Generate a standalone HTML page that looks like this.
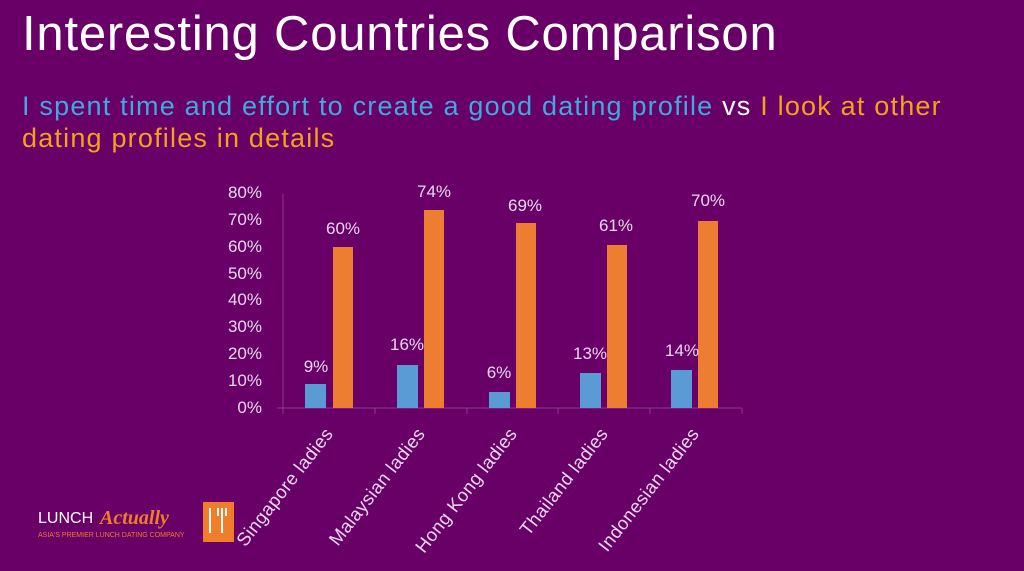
<!DOCTYPE html>
<html><head><style>
body{margin:0;width:1024px;height:571px;background:#690068;overflow:hidden;font-family:"Liberation Sans",sans-serif;position:relative}
.t{position:absolute;left:22px;top:6px;color:#fff;font-size:49px;letter-spacing:0.8px}
.s{position:absolute;left:22px;top:90px;font-size:27px;line-height:32px;color:#f4a11c;width:950px;letter-spacing:1.2px}
.b{color:#3fa9e0}.w{color:#fff}
</style></head><body>
<div class="t">Interesting Countries Comparison</div>
<div class="s"><span class="b">I spent time and effort to create a good dating profile</span> <span class="w">vs</span> I look at other dating profiles in details</div>
<svg width="1024" height="571" style="position:absolute;left:0;top:0" font-family="Liberation Sans, sans-serif">
<g fill="#e8d8ec" font-size="17" text-anchor="end">
<text x="262" y="198">80%</text><text x="262" y="225">70%</text><text x="262" y="252">60%</text><text x="262" y="279">50%</text><text x="262" y="305">40%</text><text x="262" y="332">30%</text><text x="262" y="359">20%</text><text x="262" y="386">10%</text><text x="262" y="413">0%</text>
</g>
<line x1="283" y1="194" x2="283" y2="408" stroke="#8a3a8a"/>
<line x1="277" y1="408" x2="742" y2="408" stroke="#8a3a8a"/>
<g stroke="#8a3a8a"><line x1="283" y1="408" x2="283" y2="414"/><line x1="375" y1="408" x2="375" y2="414"/><line x1="467" y1="408" x2="467" y2="414"/><line x1="558" y1="408" x2="558" y2="414"/><line x1="650" y1="408" x2="650" y2="414"/><line x1="742" y1="408" x2="742" y2="414"/></g>
<g fill="#5b9bd5">
<rect x="305" y="384" width="21" height="24"/><rect x="397" y="365" width="21" height="43"/><rect x="489" y="392" width="21" height="16"/><rect x="580" y="373" width="21" height="35"/><rect x="671" y="370" width="21" height="38"/>
</g>
<g fill="#ed7d31">
<rect x="333" y="247" width="20" height="161"/><rect x="424" y="210" width="20" height="198"/><rect x="516" y="223" width="20" height="185"/><rect x="607" y="245" width="20" height="163"/><rect x="698" y="221" width="20" height="187"/>
</g>
<g fill="#e8d8ec" font-size="17" text-anchor="middle">
<text x="316" y="372">9%</text><text x="407" y="350">16%</text><text x="499" y="378">6%</text><text x="590" y="359">13%</text><text x="682" y="356">14%</text>
<text x="343" y="234">60%</text><text x="434" y="197">74%</text><text x="525" y="211">69%</text><text x="616" y="231">61%</text><text x="708" y="206">70%</text>
</g>
<g fill="#e8d8ec" font-size="18.5" text-anchor="end" letter-spacing="0.4">
<text transform="translate(334,434) rotate(-52)">Singapore ladies</text>
<text transform="translate(426,434) rotate(-52)">Malaysian ladies</text>
<text transform="translate(518,434) rotate(-52)">Hong Kong ladies</text>
<text transform="translate(609,434) rotate(-52)">Thailand ladies</text>
<text transform="translate(700,434) rotate(-52)">Indonesian ladies</text>
</g>
<text x="38" y="523" fill="#fff" font-size="16">LUNCH</text>
<text x="100" y="524" fill="#f07d2a" font-size="20" font-style="italic" font-weight="bold" font-family="Liberation Serif, serif">Actually</text>
<text x="38" y="537" fill="#f07d2a" font-size="7">ASIA'S PREMIER LUNCH DATING COMPANY</text>
<rect x="203" y="502" width="31" height="40" fill="#f07d2a"/>
<path d="M210 508 v25 M222 508 v25 M218 508 v8 M226 508 v8" stroke="#fff" stroke-width="2" fill="none"/>
</svg>
</body></html>
